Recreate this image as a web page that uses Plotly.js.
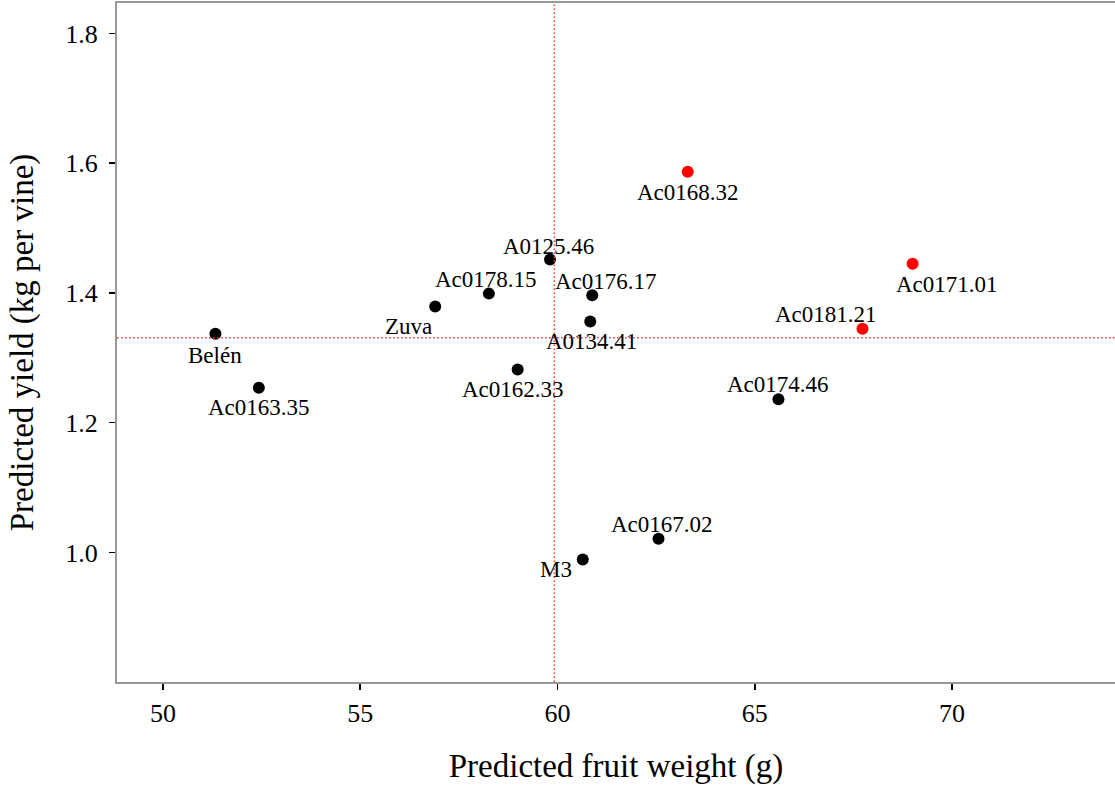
<!DOCTYPE html>
<html>
<head>
<meta charset="utf-8">
<script src="https://cdn.plot.ly/plotly-3.0.1.min.js"></script>
<style>html,body{margin:0;padding:0;background:#fff;}#chart{width:1115px;height:785px;}</style>
</head>
<body>
<div id="chart"></div>
<script>
// Data
const genotypes = ["Belén","Ac0163.35","Zuva","Ac0178.15","Ac0162.33","A0125.46","Ac0176.17","A0134.41","M3","Ac0167.02","Ac0168.32","Ac0174.46","Ac0181.21","Ac0171.01"];
const fruitWeight = [51.33, 52.43, 56.90, 58.26, 58.99, 59.81, 60.88, 60.83, 60.64, 62.56, 63.30, 65.60, 67.73, 69.00];
const yieldKg = [1.337, 1.254, 1.379, 1.399, 1.282, 1.4515, 1.3965, 1.356, 0.989, 1.021, 1.587, 1.236, 1.345, 1.445];
const highlighted = [false,false,false,false,false,false,false,false,false,false,true,false,true,true];
const refWeight = 59.92;
const refYield = 1.331;
const xTicks = [50, 55, 60, 65, 70];
const yTicks = [1.0, 1.2, 1.4, 1.6, 1.8];

// label placement (pixel shifts relative to each point)
const labelShift = {
  "Belén":[0,-22], "Ac0163.35":[0,-20], "Zuva":[-27,-20], "Ac0178.15":[-3,14],
  "Ac0162.33":[-5,-20], "A0125.46":[-2,13], "Ac0176.17":[14,14], "A0134.41":[1,-20],
  "M3":[-27,-10], "Ac0167.02":[3,14], "Ac0168.32":[0,-21], "Ac0174.46":[0,15],
  "Ac0181.21":[-36,14], "Ac0171.01":[34,-21]
};

const serif = "Liberation Serif, Times New Roman, serif";

const blackIdx = [], redIdx = [];
highlighted.forEach((h,i)=> (h?redIdx:blackIdx).push(i));

const traces = [
  {x: blackIdx.map(i=>fruitWeight[i]), y: blackIdx.map(i=>yieldKg[i]), text: blackIdx.map(i=>genotypes[i]),
   type:"scatter", mode:"markers", marker:{color:"#000000", size:12}, showlegend:false, hoverinfo:"text+x+y"},
  {x: redIdx.map(i=>fruitWeight[i]), y: redIdx.map(i=>yieldKg[i]), text: redIdx.map(i=>genotypes[i]),
   type:"scatter", mode:"markers", marker:{color:"#ff0000", size:12}, showlegend:false, hoverinfo:"text+x+y"}
];

const annotations = genotypes.map((g,i)=>({
  x: fruitWeight[i], y: yieldKg[i], text: g, showarrow:false,
  xshift: labelShift[g][0], yshift: labelShift[g][1],
  font:{family:serif, size:23, color:"#000"}
}));

const layout = {
  width:1115, height:785,
  margin:{l:117, r:0, t:3, b:103},
  paper_bgcolor:"#fff", plot_bgcolor:"#fff",
  xaxis:{
    range:[48.835, 74.13], tickvals:xTicks, ticktext:xTicks.map(String),
    showgrid:false, zeroline:false, showline:true, linecolor:"#999999", linewidth:2, mirror:true,
    ticks:"outside", ticklen:6, tickwidth:1.5, tickcolor:"#000",
    tickfont:{family:serif, size:26, color:"#000"}, ticklabelstandoff:1,
    title:{text:"Predicted fruit weight (g)", font:{family:serif, size:33, color:"#000"}, standoff:27}
  },
  yaxis:{
    range:[0.8003, 1.847], tickvals:yTicks, ticktext:yTicks.map(v=>v.toFixed(1)),
    showgrid:false, zeroline:false, showline:true, linecolor:"#999999", linewidth:2, mirror:false,
    ticks:"outside", ticklen:6, tickwidth:1.5, tickcolor:"#000",
    tickfont:{family:serif, size:26, color:"#000"}, ticklabelstandoff:6,
    title:{text:"Predicted yield (kg per vine)", font:{family:serif, size:33, color:"#000"}, standoff:22}
  },
  shapes:[
    {type:"line", xref:"x", yref:"paper", x0:refWeight, x1:refWeight, y0:0, y1:1,
     line:{color:"#ff3333", width:1.5, dash:"1.5px,2.5px"}},
    {type:"line", xref:"paper", yref:"y", x0:0, x1:1, y0:refYield, y1:refYield,
     line:{color:"#ff3333", width:1.5, dash:"1.5px,2.5px"}}
  ],
  annotations: annotations
};

Plotly.newPlot("chart", traces, layout, {displayModeBar:false, staticPlot:true});
</script>
</body>
</html>
